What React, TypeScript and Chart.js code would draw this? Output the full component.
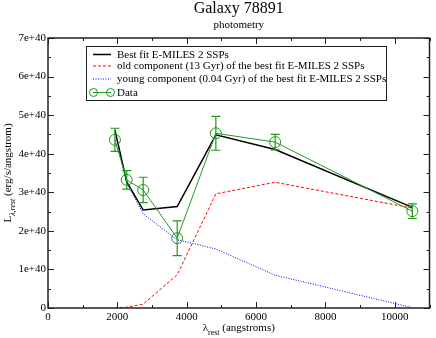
import React, { useEffect, useRef } from "react";
import { Chart, registerables } from "chart.js";

Chart.register(...registerables);

const TITLE = "Galaxy 78891";
const SUBTITLE = "photometry";
const WAVE = [1930, 2270, 2745, 3725, 4840, 6550, 10505];
const DATA = [4.36, 3.32, 3.06, 1.81, 4.53, 4.30, 2.51];
const DATA_ERR = [0.30, 0.24, 0.33, 0.45, 0.44, 0.20, 0.19];
const BEST = [4.61, 3.27, 2.54, 2.63, 4.49, 4.11, 2.61];
const OLD = [0.0, 0.02, 0.10, 0.86, 2.96, 3.26, 2.59];
const YOUNG = [4.61, 3.25, 2.44, 1.77, 1.53, 0.85, 0.01];
const LABELS = [
  "Best fit E-MILES 2 SSPs",
  "old component (13 Gyr) of the best fit E-MILES 2 SSPs",
  "young component (0.04 Gyr) of the best fit E-MILES 2 SSPs",
  "Data",
];
const X_TICKS = [0, 2000, 4000, 6000, 8000, 10000];
const Y_TICKS = [0, 1, 2, 3, 4, 5, 6, 7];

const SERIF = "'Liberation Serif', 'Times New Roman', 'DejaVu Serif', serif";
const GREEN = "#1d9a1d";

const pts = (ys: number[]) => WAVE.map((x, i) => ({ x, y: ys[i] }));

const decor = {
  id: "decor",
  afterDatasetsDraw(chart: any) {
    const ctx = chart.ctx;
    const xs = chart.scales.x;
    const ys = chart.scales.y;
    // error bars
    ctx.save();
    ctx.strokeStyle = GREEN;
    ctx.lineWidth = 1.2;
    WAVE.forEach((w, i) => {
      const px = xs.getPixelForValue(w);
      const top = ys.getPixelForValue(DATA[i] + DATA_ERR[i]);
      const bot = ys.getPixelForValue(DATA[i] - DATA_ERR[i]);
      ctx.beginPath();
      ctx.moveTo(px, top);
      ctx.lineTo(px, bot);
      ctx.moveTo(px - 4.5, top);
      ctx.lineTo(px + 4.5, top);
      ctx.moveTo(px - 4.5, bot);
      ctx.lineTo(px + 4.5, bot);
      ctx.stroke();
    });
    ctx.restore();
  },
  afterDraw(chart: any) {
    const ctx = chart.ctx;
    const a = chart.chartArea;
    const xs = chart.scales.x;
    const ys = chart.scales.y;
    ctx.save();
    // frame
    ctx.strokeStyle = "#222";
    ctx.lineWidth = 1.5;
    ctx.strokeRect(a.left, a.top, a.right - a.left, a.bottom - a.top);
    // ticks
    ctx.lineWidth = 1;
    ctx.beginPath();
    for (let v = 0; v <= 11000; v += 1000) {
      const px = Math.round(xs.getPixelForValue(v)) + 0.5;
      const len = v % 2000 === 0 ? 6 : 3;
      ctx.moveTo(px, a.bottom);
      ctx.lineTo(px, a.bottom - len);
      ctx.moveTo(px, a.top);
      ctx.lineTo(px, a.top + len);
    }
    for (let v = 0; v <= 7; v += 0.5) {
      const py = Math.round(ys.getPixelForValue(v)) + 0.5;
      const len = v % 1 === 0 ? 6 : 3;
      ctx.moveTo(a.left, py);
      ctx.lineTo(a.left + len, py);
      ctx.moveTo(a.right, py);
      ctx.lineTo(a.right - len, py);
    }
    ctx.stroke();

    // titles
    ctx.fillStyle = "#000";
    ctx.textAlign = "center";
    ctx.textBaseline = "alphabetic";
    ctx.font = `16px ${SERIF}`;
    ctx.fillText(TITLE, (a.left + a.right) / 2, 13);
    ctx.font = `11px ${SERIF}`;
    ctx.fillText(SUBTITLE, (a.left + a.right) / 2, 28);

    // x axis title with subscript
    const drawSub = (parts: [string, string, number][], cx: number, cy: number) => {
      ctx.textAlign = "left";
      let total = 0;
      parts.forEach(([t, f]) => {
        ctx.font = f;
        total += ctx.measureText(t).width;
      });
      let x = cx - total / 2;
      parts.forEach(([t, f, dy]) => {
        ctx.font = f;
        ctx.fillText(t, x, cy + dy);
        x += ctx.measureText(t).width;
      });
    };
    drawSub(
      [
        ["λ", `11px ${SERIF}`, 0],
        ["rest", `8px ${SERIF}`, 4],
        [" (angstroms)", `11px ${SERIF}`, 0],
      ],
      (a.left + a.right) / 2,
      331
    );
    ctx.save();
    ctx.translate(11, (a.top + a.bottom) / 2);
    ctx.rotate(-Math.PI / 2);
    drawSub(
      [
        ["L", `11px ${SERIF}`, 0],
        ["λ,rest", `italic 8px ${SERIF}`, 3.5],
        [" (erg/s/angstrom)", `11px ${SERIF}`, 0],
      ],
      0,
      0
    );
    ctx.restore();

    // legend
    const lx = 86, ly = 46, lw = 300, lh = 54;
    ctx.fillStyle = "#fff";
    ctx.fillRect(lx, ly, lw, lh);
    ctx.strokeStyle = "#222";
    ctx.lineWidth = 1;
    ctx.strokeRect(lx + 0.5, ly + 0.5, lw, lh);
    const rows = [54.5, 66, 79, 92.5];
    const styles = [
      { c: "#000", w: 1.5, d: [] as number[] },
      { c: "#ff0000", w: 1, d: [3, 2] },
      { c: "#0000ff", w: 1, d: [1, 1.5] },
      { c: GREEN, w: 1, d: [] as number[] },
    ];
    ctx.font = `11px ${SERIF}`;
    ctx.textAlign = "left";
    ctx.textBaseline = "middle";
    rows.forEach((ry, i) => {
      const s = styles[i];
      ctx.strokeStyle = s.c;
      ctx.lineWidth = s.w;
      ctx.setLineDash(s.d);
      ctx.beginPath();
      ctx.moveTo(93, ry);
      ctx.lineTo(111, ry);
      ctx.stroke();
      ctx.setLineDash([]);
      if (i === 3) {
        ctx.beginPath();
        ctx.arc(93.5, ry, 4, 0, Math.PI * 2);
        ctx.stroke();
        ctx.beginPath();
        ctx.arc(110.5, ry, 4, 0, Math.PI * 2);
        ctx.stroke();
      }
      ctx.fillStyle = "#000";
      ctx.fillText(LABELS[i], 117, ry + 0.5);
    });
    ctx.restore();
  },
};

export default function App() {
  const ref = useRef<HTMLCanvasElement>(null);
  useEffect(() => {
    document.body.style.margin = "0";
    const chart = new Chart(ref.current as HTMLCanvasElement, {
      type: "line",
      data: {
        datasets: [
          {
            label: LABELS[3],
            data: pts(DATA),
            borderColor: GREEN,
            borderWidth: 1,
            pointRadius: 5.5,
            pointBorderWidth: 1,
            pointBorderColor: GREEN,
            pointBackgroundColor: "rgba(0,0,0,0)",
            order: 0,
          },
          {
            label: LABELS[0],
            data: pts(BEST),
            borderColor: "#000",
            borderWidth: 1.5,
            pointRadius: 0,
            order: 1,
          },
          {
            label: LABELS[1],
            data: pts(OLD),
            borderColor: "#ff0000",
            borderWidth: 1,
            borderDash: [3, 2],
            pointRadius: 0,
            order: 2,
          },
          {
            label: LABELS[2],
            data: pts(YOUNG),
            borderColor: "#0000ff",
            borderWidth: 1,
            borderDash: [1, 1.5],
            pointRadius: 0,
            order: 3,
          },
        ],
      },
      options: {
        animation: false,
        responsive: false,
        maintainAspectRatio: false,
        layout: { padding: { top: 38, right: 2, left: 0, bottom: 0 } },
        plugins: { legend: { display: false }, tooltip: { enabled: false }, title: { display: false } },
        scales: {
          x: {
            type: "linear",
            min: 0,
            max: 11000,
            grid: { display: false, drawTicks: false },
            border: { display: false },
            afterBuildTicks: (s: any) => {
              s.ticks = X_TICKS.map((v) => ({ value: v }));
            },
            afterFit: (s: any) => {
              s.height = 30;
            },
            ticks: {
              padding: 3,
              color: "#000",
              font: { family: SERIF, size: 11 },
              maxRotation: 0,
              callback: (v: any) => String(v),
            },
          },
          y: {
            type: "linear",
            min: 0,
            max: 7,
            grid: { display: false, drawTicks: false },
            border: { display: false },
            afterBuildTicks: (s: any) => {
              s.ticks = Y_TICKS.map((v) => ({ value: v }));
            },
            afterFit: (s: any) => {
              s.width = 48;
            },
            ticks: {
              padding: 2,
              color: "#000",
              font: { family: SERIF, size: 11 },
              callback: (v: any) => (v === 0 ? "0" : `${v}e+40`),
            },
          },
        },
      },
      plugins: [decor],
    });
    return () => chart.destroy();
  }, []);
  return <canvas ref={ref} width={436} height={338} style={{ display: "block" }} />;
}
